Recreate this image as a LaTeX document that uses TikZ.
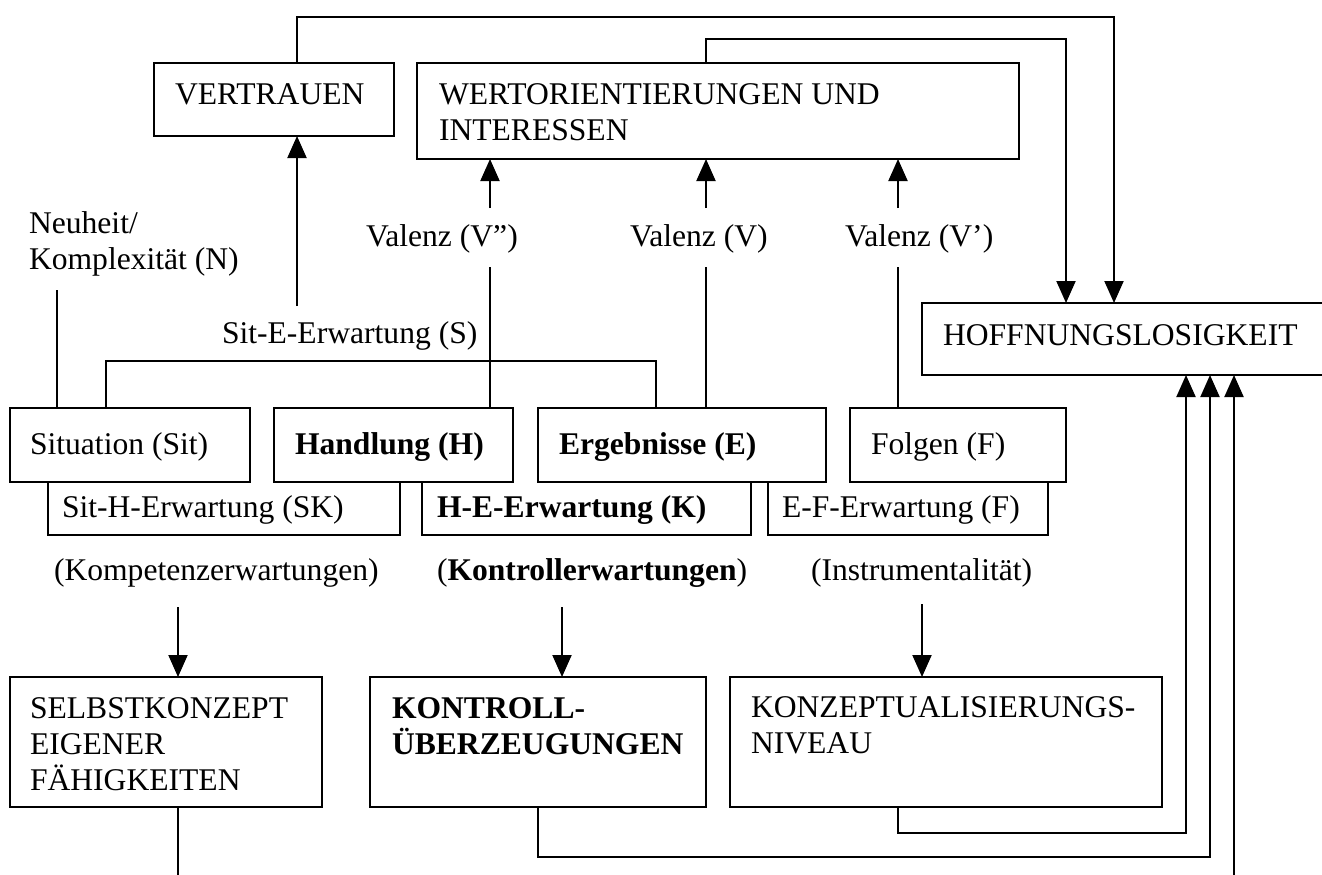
\documentclass[tikz,border=0pt]{standalone}
\usepackage{fontspec}
\setmainfont{Liberation Serif}
\usetikzlibrary{arrows.meta}
\begin{document}
\begin{tikzpicture}[x=1pt,y=-1pt,
  box/.style={draw, line width=2pt, inner sep=0pt, outer sep=0pt, anchor=north west},
  ubox/.style={inner sep=0pt, outer sep=0pt, anchor=north west},
  txt/.style={anchor=base west, inner sep=0pt, outer sep=0pt, font=\fontsize{31.6pt}{36pt}\selectfont},
  con/.style={line width=2pt},
  arr/.style={line width=2pt, -{Triangle[length=22pt,width=19pt]}}]
\clip (0,0) rectangle (1322,875);
\fill[white] (0,0) rectangle (1322,875);

% boxes
\node[box, minimum width=240pt, minimum height=73pt] (vert) at (154,63) {};
\node[box, minimum width=602pt, minimum height=96pt] (wert) at (417,63) {};
\node[box, minimum width=460pt, minimum height=72pt] (hoff) at (922,303) {};
\node[box, minimum width=240pt, minimum height=74pt] (sit) at (10,408) {};
\node[box, minimum width=239pt, minimum height=74pt] (hand) at (274,408) {};
\node[box, minimum width=288pt, minimum height=74pt] (erg) at (538,408) {};
\node[box, minimum width=216pt, minimum height=74pt] (folg) at (850,408) {};
\node[ubox, minimum width=352pt, minimum height=53pt] (sith) at (48,482) {};
\node[ubox, minimum width=329pt, minimum height=53pt] (he) at (422,482) {};
\node[ubox, minimum width=280pt, minimum height=53pt] (ef) at (768,482) {};
\draw[con] (sith.north west) |- (sith.south east) -- (sith.north east);
\draw[con] (he.north west) |- (he.south east) -- (he.north east);
\draw[con] (ef.north west) |- (ef.south east) -- (ef.north east);
\node[box, minimum width=312pt, minimum height=130pt] (selbst) at (10,677) {};
\node[box, minimum width=336pt, minimum height=130pt] (kontr) at (370,677) {};
\node[box, minimum width=432pt, minimum height=130pt] (konz) at (730,677) {};

% texts
\node[txt] (tvert) at (175,104) {VERTRAUEN};
\node[txt] (twert1) at (439,104) {WERTORIENTIERUNGEN UND};
\node[txt] (twert2) at (439,140) {INTERESSEN};
\node[txt] (tneu1) at (29,233) {Neuheit/};
\node[txt] (tneu2) at (29,269) {Komplexität (N)};
\node[txt] (tv2) at (366,246) {Valenz (V”)};
\node[txt] (tv) at (630,246) {Valenz (V)};
\node[txt] (tv1) at (845,246) {Valenz (V’)};
\node[txt] (tsite) at (222,343) {Sit-E-Erwartung (S)};
\node[txt] (thoff) at (943,345) {HOFFNUNGSLOSIGKEIT};
\node[txt] (tsit) at (30,454) {Situation (Sit)};
\node[txt] (thand) at (295,454) {\bfseries Handlung (H)};
\node[txt] (terg) at (559,454) {\bfseries Ergebnisse (E)};
\node[txt] (tfolg) at (871,454) {Folgen (F)};
\node[txt] (tsith) at (62,517) {Sit-H-Erwartung (SK)};
\node[txt] (the) at (437,517) {\bfseries H-E-Erwartung (K)};
\node[txt] (tef) at (782,517) {E-F-Erwartung (F)};
\node[txt] (tkomp) at (54,580) {(Kompetenzerwartungen)};
\node[txt] (tkontr) at (437,580) {(\textbf{Kontrollerwartungen})};
\node[txt] (tinstr) at (811,580) {(Instrumentalität)};
\node[txt] (tself1) at (30,718) {SELBSTKONZEPT};
\node[txt] (tself2) at (30,754) {EIGENER};
\node[txt] (tself3) at (30,790) {FÄHIGKEITEN};
\node[txt] (tkon1) at (392,718) {\bfseries KONTROLL-};
\node[txt] (tkon2) at (392,754) {\bfseries ÜBERZEUGUNGEN};
\node[txt] (tkz1) at (751,717) {KONZEPTUALISIERUNGS-};
\node[txt] (tkz2) at (751,753) {NIVEAU};

% connector points
\coordinate (vt) at (297,63);
\coordinate (ht1) at (1114,303);
\coordinate (wt) at (706,63);
\coordinate (ht2) at (1066,303);
\coordinate (se) at (297,306);
\coordinate (nl) at (57,290);
\coordinate (sb) at (106,361);
\coordinate (sb2) at (656,361);
\coordinate (a1) at (490,208);
\coordinate (a2) at (706,208);
\coordinate (a3) at (898,208);
\coordinate (b1) at (490,267);
\coordinate (b2) at (706,267);
\coordinate (b3) at (898,267);
\coordinate (d1) at (178,607);
\coordinate (d2) at (562,607);
\coordinate (d3) at (922,604);
\coordinate (k1) at (898,833);
\coordinate (c1) at (1186,833);
\coordinate (k2) at (538,857);
\coordinate (c2) at (1210,857);
\coordinate (c3) at (1234,880);
\coordinate (s3) at (178,880);

% connectors
\draw[arr] (vt) -- ++(0,-46) -| (ht1);
\draw[arr] (wt) -- ++(0,-24) -| (ht2);
\draw[arr] (se) -- (vert.south -| se);
\draw[con] (nl) -- (sit.north -| nl);
\draw[con] (sit.north -| sb) -- (sb) -- (sb2) -- (erg.north -| sb2);
\draw[arr] (a1) -- (wert.south -| a1);
\draw[arr] (a2) -- (wert.south -| a2);
\draw[arr] (a3) -- (wert.south -| a3);
\draw[con] (b1) -- (hand.north -| b1);
\draw[con] (b2) -- (erg.north -| b2);
\draw[con] (b3) -- (folg.north -| b3);
\draw[arr] (d1) -- (selbst.north -| d1);
\draw[arr] (d2) -- (kontr.north -| d2);
\draw[arr] (d3) -- (konz.north -| d3);
\draw[arr] (konz.south -| k1) -- (k1) -- (c1) -- (hoff.south -| c1);
\draw[arr] (kontr.south -| k2) -- (k2) -- (c2) -- (hoff.south -| c2);
\draw[arr] (c3) -- (hoff.south -| c3);
\draw[con] (selbst.south -| s3) -- (s3);
\end{tikzpicture}
\end{document}
